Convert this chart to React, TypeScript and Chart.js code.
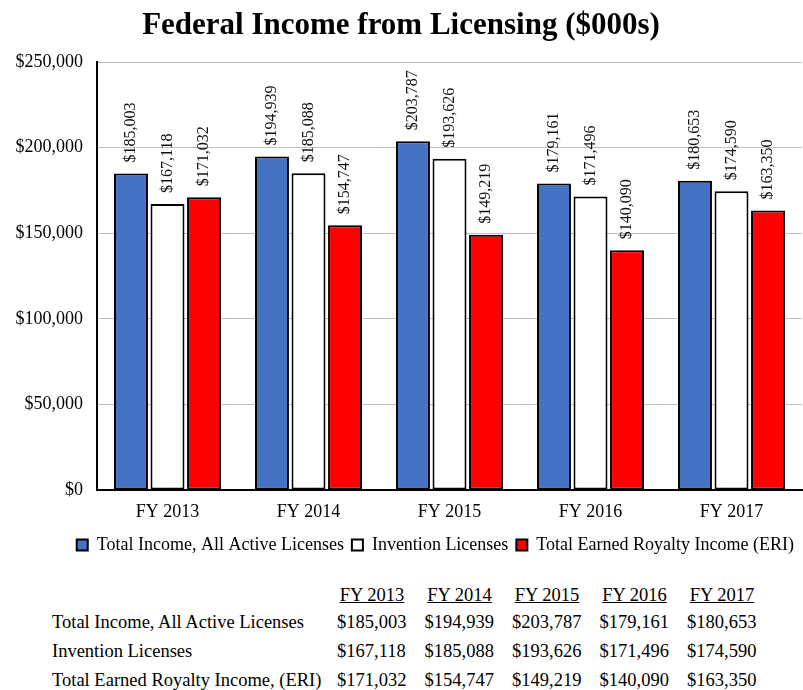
import React, { useEffect, useRef } from "react";
import { Chart, registerables } from "chart.js";

Chart.register(...registerables);

// ---- Data ----
const categories = ["FY 2013", "FY 2014", "FY 2015", "FY 2016", "FY 2017"];
const seriesNames = [
  "Total Income, All Active Licenses",
  "Invention Licenses",
  "Total Earned Royalty Income (ERI)",
];
const totalIncome = [185003, 194939, 203787, 179161, 180653];
const inventionLicenses = [167118, 185088, 193626, 171496, 174590];
const earnedRoyalty = [171032, 154747, 149219, 140090, 163350];
const tableRowLabels = [
  "Total Income, All Active Licenses",
  "Invention Licenses",
  "Total Earned Royalty Income, (ERI)",
];
const chartTitle = "Federal Income from Licensing ($000s)";
const yMin = 0;
const yMax = 250000;
const yStep = 50000;

const FONT = "'Liberation Serif', 'Times New Roman', serif";
const fmt = (v: number) => "$" + Number(v).toLocaleString("en-US");

const barLabelPlugin = {
  id: "barLabels",
  afterDatasetsDraw(chart: any) {
    const ctx = chart.ctx;
    ctx.save();
    ctx.font = "16px " + FONT;
    ctx.fillStyle = "#111";
    ctx.textAlign = "left";
    ctx.textBaseline = "middle";
    chart.data.datasets.forEach((ds: any, i: number) => {
      const meta = chart.getDatasetMeta(i);
      meta.data.forEach((el: any, j: number) => {
        ctx.save();
        ctx.translate(el.x, el.y - 11);
        ctx.rotate(-Math.PI / 2);
        ctx.fillText(fmt(ds.data[j]), 0, 0);
        ctx.restore();
      });
    });
    ctx.restore();
  },
};

function ChartCanvas() {
  const ref = useRef<HTMLCanvasElement | null>(null);
  useEffect(() => {
    if (!ref.current) return;
    const common = {
      borderColor: "#000",
      borderWidth: 2,
      borderSkipped: false,
      categoryPercentage: 0.777,
      barPercentage: 0.93,
    };
    const chart = new Chart(ref.current, {
      type: "bar",
      data: {
        labels: categories,
        datasets: [
          { label: seriesNames[0], data: totalIncome, backgroundColor: "#4472C4", ...common },
          { label: seriesNames[1], data: inventionLicenses, backgroundColor: "#FFFFFF", ...common },
          { label: seriesNames[2], data: earnedRoyalty, backgroundColor: "#FF0000", ...common },
        ] as any,
      },
      options: {
        responsive: false,
        animation: false,
        devicePixelRatio: 1,
        layout: { padding: { left: 0, right: 1, top: 0, bottom: 0 } },
        plugins: {
          title: {
            display: true,
            text: chartTitle,
            color: "#000",
            font: { family: FONT, size: 31, weight: "bold" },
            padding: { top: 7, bottom: 18 },
          },
          legend: {
            position: "bottom",
            align: "end",
            labels: {
              boxWidth: 11,
              boxHeight: 11,
              padding: 8,
              color: "#000",
              font: { family: FONT, size: 18 },
            },
          },
          tooltip: { enabled: false },
        },
        scales: {
          x: {
            grid: { display: false, drawTicks: false },
            border: { color: "#000", width: 2 },
            ticks: { color: "#000", font: { family: FONT, size: 18 }, padding: 11 },
            afterFit: (s: any) => {
              s.height = 38;
            },
          },
          y: {
            min: yMin,
            max: yMax,
            grid: { color: "#BFBFBF", lineWidth: 1, drawTicks: false },
            border: { color: "#000", width: 2 },
            ticks: {
              stepSize: yStep,
              color: "#000",
              font: { family: FONT, size: 18 },
              padding: 14,
              callback: (v: any) => fmt(v),
            },
            afterFit: (s: any) => {
              s.width = 97;
            },
          },
        },
      } as any,
      plugins: [barLabelPlugin],
    });
    return () => chart.destroy();
  }, []);
  return <canvas ref={ref} width={803} height={564} style={{ display: "block" }} />;
}

const tableValues = [totalIncome, inventionLicenses, earnedRoyalty];

export default function App() {
  const colStart = 337;
  const colPitch = 87.5;
  const labelLeft = 52;
  const headerTop = 585;
  const rowTop0 = 612;
  const rowPitch = 29;
  const cellStyle: React.CSSProperties = {
    position: "absolute",
    fontFamily: FONT,
    fontSize: "18.5px",
    lineHeight: "20px",
    color: "#000",
    whiteSpace: "nowrap",
  };
  return (
    <div style={{ position: "absolute", left: 0, top: 0, width: 803, height: 690, background: "#fff" }}>
      <ChartCanvas />
      {categories.map((c, i) => (
        <div
          key={"h" + i}
          style={{
            ...cellStyle,
            left: colStart + i * colPitch,
            top: headerTop,
            width: 70,
            textAlign: "center",
            textDecoration: "underline",
          }}
        >
          {c}
        </div>
      ))}
      {tableRowLabels.map((lab, r) => (
        <React.Fragment key={"r" + r}>
          <div style={{ ...cellStyle, left: labelLeft, top: rowTop0 + r * rowPitch }}>{lab}</div>
          {tableValues[r].map((v, i) => (
            <div
              key={"v" + r + "_" + i}
              style={{ ...cellStyle, left: colStart + i * colPitch, top: rowTop0 + r * rowPitch }}
            >
              {fmt(v)}
            </div>
          ))}
        </React.Fragment>
      ))}
    </div>
  );
}
